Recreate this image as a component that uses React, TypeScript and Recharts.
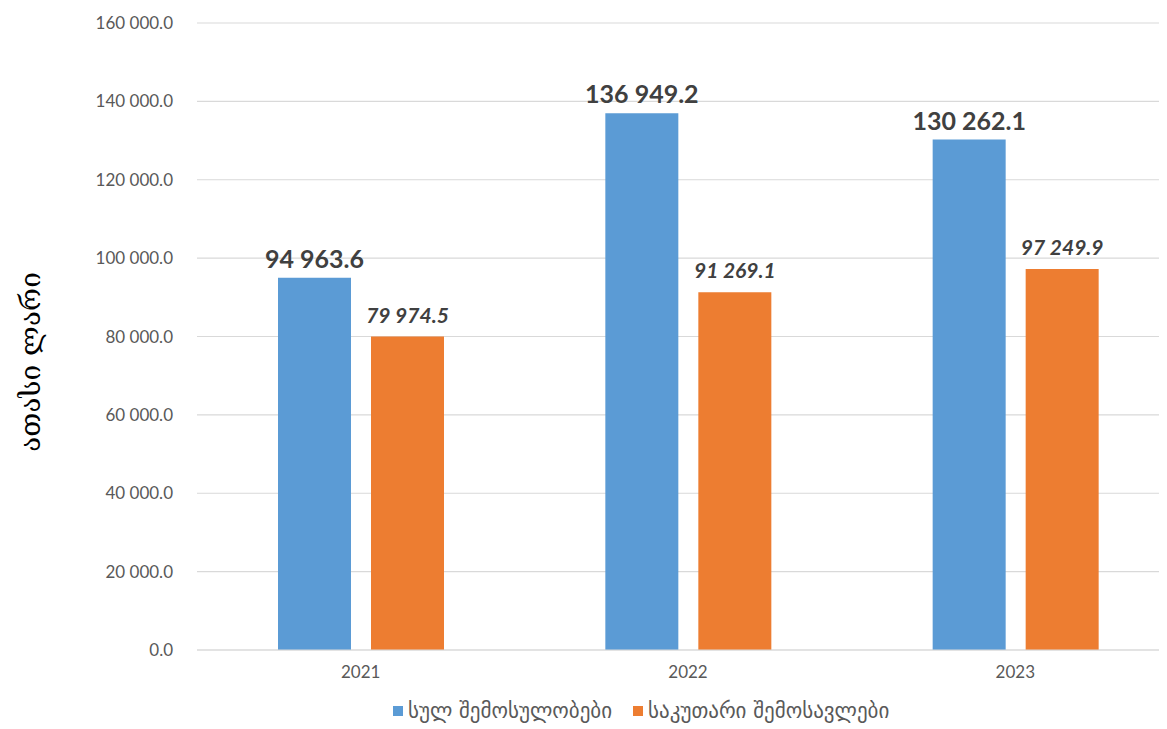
import React from 'react';
import { BarChart, Bar, XAxis, YAxis, CartesianGrid, Legend, LabelList } from 'recharts';

const years = ['2021', '2022', '2023'];
const totalRevenue = [94963.6, 136949.2, 130262.1];
const ownRevenue = [79974.5, 91269.1, 97249.9];
const yTicks = [0, 20000, 40000, 60000, 80000, 100000, 120000, 140000, 160000];
const seriesNames = ['სულ შემოსულობები', 'საკუთარი შემოსავლები'];
const yAxisTitle = 'ათასი ლარი';

const BLUE = '#5B9BD5';
const ORANGE = '#ED7D31';

const data = years.map((y, i) => ({ year: y, total: totalRevenue[i], own: ownRevenue[i] }));

const fmt = (v: number) => {
  const s = Number(v).toFixed(1);
  const [int, dec] = s.split('.');
  return int.replace(/\B(?=(\d{3})+(?!\d))/g, ' ') + '.' + dec;
};

const numFont = 'Lato, "Open Sans", sans-serif';
const geoFont = '"DejaVu Sans", sans-serif';

const TotalLabel = (props: any) => {
  const { x, y, width, value } = props;
  return (
    <text x={x + width / 2} y={y - 10} textAnchor="middle" fill="#404040"
      style={{ fontFamily: numFont, fontWeight: 700, fontSize: 25 }}>
      {fmt(value)}
    </text>
  );
};

const OwnLabel = (props: any) => {
  const { x, y, width, value } = props;
  return (
    <text x={x + width / 2} y={y - 14} textAnchor="middle" fill="#404040"
      style={{ fontFamily: numFont, fontWeight: 700, fontStyle: 'italic', fontSize: 21 }}>
      {fmt(value)}
    </text>
  );
};

const LegendContent = () => (
  <div style={{ display: 'flex', justifyContent: 'flex-start', paddingLeft: 393, paddingTop: 20, fontFamily: geoFont, fontSize: 21, color: '#595959', lineHeight: '22px' }}>
    {[BLUE, ORANGE].map((c, i) => (
      <div key={i} style={{ display: 'flex', alignItems: 'center', marginRight: i === 0 ? 21 : 0 }}>
        <span style={{ display: 'inline-block', width: 10, height: 10, background: c, marginRight: 5 }} />
        <span>{seriesNames[i]}</span>
      </div>
    ))}
  </div>
);

const YTitle = () => (
  <text x={30} y={362} transform="rotate(-90, 30, 362)" textAnchor="middle" dominantBaseline="central"
    fill="#000" style={{ fontFamily: '"DejaVu Serif", "DejaVu Sans", serif', fontSize: 28 }}>
    {yAxisTitle}
  </text>
);

export default function App() {
  return (
    <div style={{ marginTop: -8, marginLeft: -8, width: 1167, height: 729, overflow: 'hidden', background: '#fff', position: 'relative' }}>
      <BarChart width={1180} height={729} data={data}
        margin={{ top: 23, right: 1, left: 0, bottom: 0 }} barSize={73} barGap={20}>
        <CartesianGrid vertical={false} stroke="#D9D9D9" strokeWidth={1.2} />
        <XAxis dataKey="year" height={30} tickLine={false} axisLine={{ stroke: '#D9D9D9', strokeWidth: 1.2 }}
          tick={{ fill: '#595959', fontSize: 17, fontFamily: numFont }} tickMargin={10} />
        <YAxis width={197} domain={[0, 160000]} ticks={yTicks} tickFormatter={fmt} axisLine={false} tickLine={false}
          tick={{ fill: '#595959', fontSize: 17, fontFamily: numFont }} tickMargin={18}
          label={<YTitle />} />
        <Legend verticalAlign="bottom" height={49} content={<LegendContent />} />
        <Bar dataKey="total" name={seriesNames[0]} fill={BLUE} isAnimationActive={false}>
          <LabelList dataKey="total" content={<TotalLabel />} />
        </Bar>
        <Bar dataKey="own" name={seriesNames[1]} fill={ORANGE} isAnimationActive={false}>
          <LabelList dataKey="own" content={<OwnLabel />} />
        </Bar>
      </BarChart>
    </div>
  );
}
